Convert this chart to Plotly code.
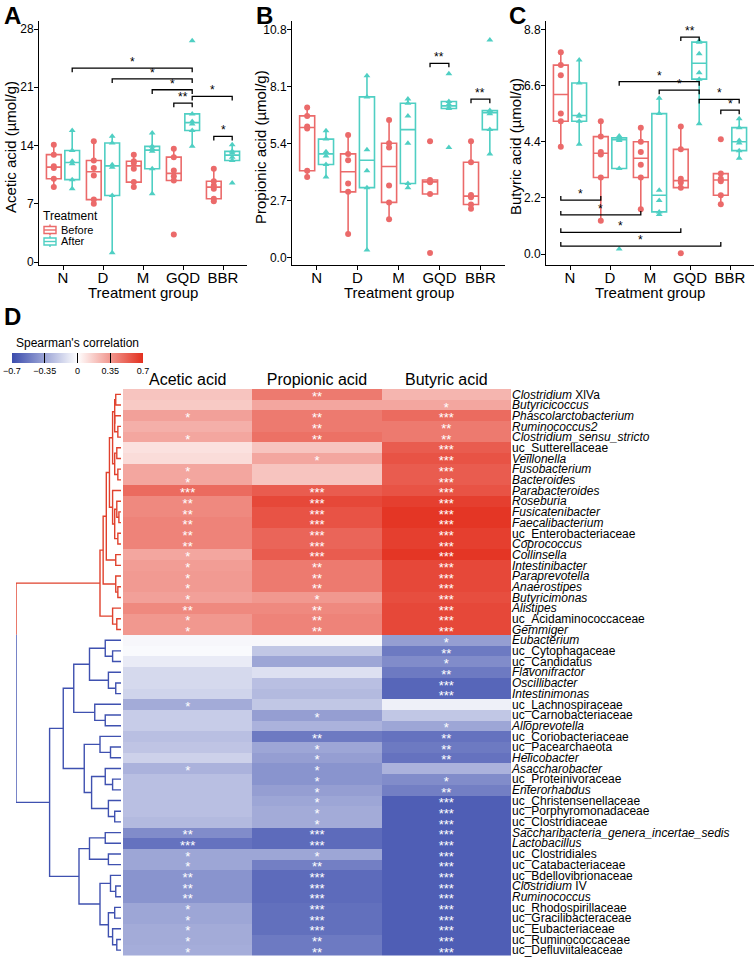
import numpy as np
import plotly.graph_objects as go

FONT = "Arial, Liberation Sans, Helvetica, sans-serif"
W, H = 756, 958

# ---------------- Panels A-C data ----------------
groups = ["N", "D", "M", "GQD", "BBR"]
treat_names = ["Before", "After"]
treat_colors = ["#EB6A6A", "#4FCFC3"]
treat_symbols = ["circle", "triangle-up"]

acetic_before = [[9.0, 10.0, 11.3, 11.5, 12.9, 14.1], [7.0, 7.5, 10.4, 11.3, 12.2, 14.5],
                 [9.0, 9.6, 11.2, 11.9, 12.1, 12.9], [3.3, 9.8, 10.3, 11.0, 12.6, 13.6],
                 [7.3, 7.6, 8.8, 9.2, 9.7, 11.2]]
acetic_after = [[8.8, 9.9, 11.8, 12.1, 13.4, 15.8], [1.1, 8.0, 11.4, 11.7, 14.3, 15.1],
                [8.2, 11.2, 13.3, 13.6, 13.9, 15.5], [13.9, 15.8, 16.6, 16.9, 17.8, 26.6],
                [9.5, 12.2, 12.6, 13.1, 13.3, 14.1]]
propionic_before = [[3.8, 4.1, 6.1, 6.2, 6.7, 7.1], [1.1, 3.1, 3.5, 4.6, 4.9, 5.8],
                    [1.8, 2.6, 3.4, 5.2, 5.4, 6.5], [0.2, 3.0, 3.55, 3.6, 3.66, 5.5],
                    [2.3, 2.5, 2.85, 2.95, 4.5, 5.5]]
propionic_after = [[3.8, 4.4, 4.8, 5.0, 5.6, 6.0], [0.35, 3.3, 4.1, 5.1, 7.6, 8.6],
                   [3.3, 3.5, 5.4, 6.7, 7.3, 7.5], [5.2, 7.05, 7.1, 7.25, 7.38, 8.7],
                   [4.9, 6.05, 6.8, 6.9, 6.95, 10.3]]
butyric_before = [[4.2, 5.2, 5.5, 7.0, 7.4, 7.9], [1.3, 3.0, 3.9, 4.0, 4.6, 5.2],
                  [1.75, 3.0, 3.5, 4.0, 4.4, 4.95], [0.03, 2.6, 2.8, 2.95, 4.1, 5.0],
                  [1.95, 2.3, 2.85, 2.95, 3.15, 4.5]]
butyric_after = [[4.3, 5.2, 5.4, 5.45, 6.7, 7.6], [0.2, 3.35, 4.45, 4.5, 4.55, 4.62],
                 [1.55, 1.65, 2.1, 2.5, 5.5, 6.1], [5.1, 6.85, 7.1, 7.85, 8.3, 8.35],
                 [3.75, 4.05, 4.35, 4.45, 4.95, 5.3]]

acetic_ticks = [0, 7, 14, 21, 28]
propionic_ticks = [0.0, 2.7, 5.4, 8.1, 10.8]
butyric_ticks = [0.0, 2.2, 4.4, 6.6, 8.8]

# significance brackets: (group1, treatment1, group2, treatment2, y, label)
acetic_brackets = [("N", 1, "GQD", 1, 23.3, "*"), ("D", 1, "GQD", 1, 22.0, "*"),
                   ("M", 1, "GQD", 1, 20.7, "*"), ("GQD", 0, "GQD", 1, 19.1, "**"),
                   ("GQD", 1, "BBR", 1, 19.9, "*"), ("BBR", 0, "BBR", 1, 15.1, "*")]
propionic_brackets = [("GQD", 0, "GQD", 1, 9.19, "**"), ("BBR", 0, "BBR", 1, 7.49, "**")]
butyric_brackets = [("GQD", 0, "GQD", 1, 8.5, "**"), ("D", 1, "GQD", 1, 6.75, "*"),
                    ("M", 1, "GQD", 1, 6.42, "*"), ("GQD", 1, "BBR", 1, 6.06, "*"),
                    ("BBR", 0, "BBR", 1, 5.64, "*")]
butyric_brackets_low = [("N", 0, "D", 0, 2.11, "*"), ("N", 0, "M", 0, 1.53, "*"),
                        ("N", 0, "GQD", 0, 0.85, "*"), ("N", 0, "BBR", 0, 0.31, "*")]

# ---------------- Panel D data ----------------
acids = ["Acetic acid", "Propionic acid", "Butyric acid"]
genera = ["<i>Clostridium</i> XlVa", "<i>Butyricicoccus</i>", "<i>Phascolarctobacterium</i>",
          "<i>Ruminococcus2</i>", "<i>Clostridium_sensu_stricto</i>", "uc_Sutterellaceae",
          "<i>Veillonella</i>", "<i>Fusobacterium</i>", "<i>Bacteroides</i>", "<i>Parabacteroides</i>",
          "<i>Roseburia</i>", "<i>Fusicatenibacter</i>", "<i>Faecalibacterium</i>",
          "uc_Enterobacteriaceae", "<i>Coprococcus</i>", "<i>Collinsella</i>", "<i>Intestinibacter</i>",
          "<i>Paraprevotella</i>", "<i>Anaerostipes</i>", "<i>Butyricimonas</i>", "<i>Alistipes</i>",
          "uc_Acidaminococcaceae", "<i>Gemmiger</i>", "<i>Eubacterium</i>", "uc_Cytophagaceae",
          "uc_Candidatus", "<i>Flavonifractor</i>", "<i>Oscillibacter</i>", "<i>Intestinimonas</i>",
          "uc_Lachnospiraceae", "uc_Carnobacteriaceae", "<i>Alloprevotella</i>",
          "uc_Coriobacteriaceae", "uc_Pacearchaeota", "<i>Helicobacter</i>", "<i>Asaccharobacter</i>",
          "uc_Proteinivoraceae", "<i>Enterorhabdus</i>", "uc_Christensenellaceae",
          "uc_Porphyromonadaceae", "uc_Clostridiaceae",
          "<i>Saccharibacteria_genera_incertae_sedis</i>", "<i>Lactobacillus</i>",
          "uc_Clostridiales", "uc_Catabacteriaceae", "uc_Bdellovibrionaceae",
          "<i>Clostridium</i> IV", "<i>Ruminococcus</i>", "uc_Rhodospirillaceae",
          "uc_Gracilibacteraceae", "uc_Eubacteriaceae", "uc_Ruminococcaceae", "uc_Defluviitaleaceae"]

acetic_r = [0.20, 0.18, 0.32, 0.27, 0.30, 0.10, 0.12, 0.30, 0.30, 0.50, 0.40, 0.40, 0.42, 0.42,
            0.42, 0.30, 0.33, 0.34, 0.34, 0.32, 0.40, 0.35, 0.35,
            -0.03, -0.02, -0.08, -0.15, -0.15, -0.17, -0.33, -0.20, -0.20, -0.25, -0.23, -0.18,
            -0.30, -0.25, -0.25, -0.25, -0.25, -0.27, -0.45, -0.55, -0.35, -0.35, -0.42, -0.42,
            -0.42, -0.35, -0.35, -0.33, -0.33, -0.32]
propionic_r = [0.45, 0.30, 0.45, 0.45, 0.48, 0.20, 0.30, 0.20, 0.20, 0.55, 0.62, 0.58, 0.58, 0.52,
               0.52, 0.55, 0.45, 0.45, 0.45, 0.35, 0.40, 0.42, 0.42,
               -0.03, -0.22, -0.35, -0.12, -0.25, -0.27, -0.22, -0.38, -0.30, -0.52, -0.35, -0.38,
               -0.42, -0.42, -0.38, -0.35, -0.33, -0.33, -0.58, -0.58, -0.35, -0.50, -0.58, -0.58,
               -0.58, -0.56, -0.56, -0.56, -0.52, -0.52]
butyric_r = [0.25, 0.30, 0.50, 0.45, 0.45, 0.55, 0.58, 0.55, 0.55, 0.58, 0.65, 0.68, 0.68, 0.65,
             0.65, 0.68, 0.62, 0.62, 0.62, 0.60, 0.62, 0.62, 0.62,
             -0.38, -0.52, -0.45, -0.52, -0.60, -0.60, -0.06, -0.22, -0.35, -0.55, -0.52, -0.55,
             -0.30, -0.45, -0.50, -0.63, -0.63, -0.63, -0.63, -0.63, -0.63, -0.63, -0.63, -0.63,
             -0.63, -0.63, -0.63, -0.63, -0.63, -0.63]

acetic_sig = ["", "", "*", "", "*", "", "", "*", "*", "***", "**", "**", "**", "**", "**", "*", "*",
              "*", "*", "*", "**", "*", "*",
              "", "", "", "", "", "", "*", "", "", "", "", "", "*", "", "", "", "", "", "**", "***",
              "*", "*", "**", "**", "**", "*", "*", "*", "*", "*"]
propionic_sig = ["**", "", "**", "**", "**", "", "*", "", "", "***", "***", "***", "***", "***", "***",
                 "***", "**", "**", "**", "*", "**", "**", "**",
                 "", "", "", "", "", "", "", "*", "", "**", "*", "*", "*", "*", "*", "*", "*", "*",
                 "***", "***", "*", "**", "***", "***", "***", "***", "***", "***", "**", "**"]
butyric_sig = ["", "*", "***", "**", "**", "***", "***", "***", "***", "***", "***", "***", "***",
               "***", "***", "***", "***", "***", "***", "***", "***", "***", "***",
               "*", "**", "*", "**", "***", "***", "", "", "*", "**", "**", "**", "", "*", "**",
               "***", "***", "***", "***", "***", "***", "***", "***", "***", "***", "***", "***",
               "***", "***", "***"]

# dendrogram linkage: (merge height relative to root, left, right); leaves are row indices
red_tree = (0.20,
            (0.17,
             (0.14,
              (0.11,
               (0.08, (0.06, (0.05, 0, 1), (0.06, 2, (0.03, 3, 4))),
                (0.06, (0.04, 5, 6), (0.03, 7, 8))),
               (0.08, 9, (0.06, (0.04, 10, (0.02, 11, 12)), (0.03, 13, 14)))),
              (0.05, 15, 16)),
             (0.05, 17, (0.03, 18, 19))),
            (0.08, 20, (0.04, 21, 22)))
blue_tree = (0.68,
             (0.55,
              (0.45, (0.30, (0.15, 23, (0.08, 24, 25)), (0.12, 26, (0.05, 27, 28))),
               (0.25, 29, (0.15, 30, 31))),
              (0.35, (0.20, 32, (0.10, 33, 34)),
               (0.28, (0.15, 35, (0.08, 36, 37)), (0.12, 38, (0.06, 39, 40))))),
             (0.40,
              (0.30, (0.15, 41, 42), (0.12, 43, 44)),
              (0.20, (0.10, 45, (0.05, 46, 47)),
               (0.12, (0.06, 48, 49), (0.08, 50, (0.04, 51, 52))))))
root_height = 1.0

fig = go.Figure()


def px_x(p):
    return p / W


def px_y(p):
    return 1 - p / H


def label(text, x, y, size, angle=0, xanchor="center", yanchor="middle", color="black"):
    fig.add_annotation(text=text, x=px_x(x), y=px_y(y), xref="paper", yref="paper",
                       xanchor=xanchor, yanchor=yanchor, showarrow=False, textangle=angle,
                       font=dict(size=size, color=color, family=FONT))


# ---------------- Box panels ----------------
panels = [
    ("x", "y", "Acetic acid (µmol/g)", acetic_before, acetic_after, acetic_ticks,
     [-0.36, 29.0], (39, 247), acetic_brackets, [], 0.5, 10),
    ("x2", "y2", "Propionic acid (µmol/g)", propionic_before, propionic_after, propionic_ticks,
     [-0.365, 11.21], (292, 505), propionic_brackets, [], 0.19, 260),
    ("x3", "y3", "Butyric acid (µmol/g)", butyric_before, butyric_after, butyric_ticks,
     [-0.43, 9.14], (546, 754), butyric_brackets, butyric_brackets_low, 0.16, 515),
]
DODGE = 0.23
for pi, (xa, ya, ytitle, before, after, ticks, yr, xdom, brk, brk_low, tl, ytx) in enumerate(panels):
    for ti, data in enumerate([before, after]):
        xs, ys = [], []
        for g, vals in zip(groups, data):
            xs += [g] * len(vals)
            ys += vals
        fig.add_trace(go.Box(
            x=xs, y=ys, name=treat_names[ti], showlegend=False, xaxis=xa, yaxis=ya,
            alignmentgroup=f"panel{pi}", offsetgroup=treat_names[ti],
            boxpoints="all", jitter=0, pointpos=0,
            fillcolor="rgba(0,0,0,0)", line=dict(color=treat_colors[ti], width=1.6),
            marker=dict(color=treat_colors[ti], symbol=treat_symbols[ti], size=6),
            whiskerwidth=0, hoverinfo="y"))
    sfx = "" if pi == 0 else str(pi + 1)
    fig.layout["xaxis" + sfx] = dict(
        domain=[px_x(xdom[0]), px_x(xdom[1])], anchor=ya, type="category",
        categoryorder="array", categoryarray=groups, range=[-0.6, 4.6], automargin=False,
        showline=True, linecolor="black", linewidth=1, ticks="outside", ticklen=4,
        ticklabelstandoff=-5,
        tickcolor="black", tickfont=dict(size=15, color="black", family=FONT),
        showgrid=False, zeroline=False)
    fig.layout["yaxis" + sfx] = dict(
        domain=[px_y(265), px_y(20.7)], anchor=xa, range=yr, tickvals=ticks, automargin=False,
        ticktext=[("%g" % t) if pi == 0 else ("%.1f" % t) for t in ticks],
        showline=True, linecolor="black", linewidth=1, ticks="outside", ticklen=4,
        ticklabelstandoff=-2,
        tickcolor="black", tickfont=dict(size=12, color="black", family=FONT),
        showgrid=False, zeroline=False)
    label("Treatment group", (xdom[0] + xdom[1]) / 2, 292, 15)
    label(ytitle, ytx, 147, 15, angle=-90)
    for (g1, t1, g2, t2, yv, lab), sign in [(b, 1) for b in brk] + [(b, -1) for b in brk_low]:
        x1 = groups.index(g1) + (DODGE if t1 else -DODGE)
        x2 = groups.index(g2) + (DODGE if t2 else -DODGE)
        yt = yv - sign * tl
        fig.add_shape(type="path", xref=xa, yref=ya,
                      path=f"M {x1} {yt} L {x1} {yv} L {x2} {yv} L {x2} {yt}",
                      line=dict(color="black", width=1.3))
        fig.add_annotation(x=(x1 + x2) / 2, y=yv, xref=xa, yref=ya, text=lab,
                           showarrow=False, yanchor="bottom", yshift=-3,
                           font=dict(size=12, color="black", family=FONT))

# manual legend for panel A (ggplot-style keys)
label("Treatment", 41, 216, 12, xanchor="left")
for ti, name in enumerate(treat_names):
    yc = 230 + ti * 11.5
    col = treat_colors[ti]
    fig.add_shape(type="rect", xref="paper", yref="paper", x0=px_x(44), x1=px_x(56),
                  y0=px_y(yc + 3.5), y1=px_y(yc - 3.5), line=dict(color=col, width=1.4),
                  fillcolor="rgba(0,0,0,0)")
    fig.add_shape(type="line", xref="paper", yref="paper", x0=px_x(44), x1=px_x(56),
                  y0=px_y(yc), y1=px_y(yc), line=dict(color=col, width=1.4))
    fig.add_shape(type="line", xref="paper", yref="paper", x0=px_x(50), x1=px_x(50),
                  y0=px_y(yc - 5.5), y1=px_y(yc - 3.5), line=dict(color=col, width=1.4))
    fig.add_shape(type="line", xref="paper", yref="paper", x0=px_x(50), x1=px_x(50),
                  y0=px_y(yc + 3.5), y1=px_y(yc + 5.5), line=dict(color=col, width=1.4))
    label(name, 59, yc, 11, xanchor="left")

# ---------------- Heatmap ----------------
Z = np.array([acetic_r, propionic_r, butyric_r]).T
rows = list(range(len(genera)))
colorscale = [[0, "#3B4CAD"], [0.5, "#FFFFFF"], [1, "#E3301F"]]
fig.add_trace(go.Heatmap(
    z=Z, x=acids, y=rows, xaxis="x4", yaxis="y4", zmin=-0.7, zmax=0.7,
    colorscale=colorscale, showscale=True,
    colorbar=dict(orientation="h", x=px_x(12), xanchor="left", y=px_y(339), yanchor="top",
                  lenmode="pixels", len=131, thickness=10, xpad=0, ypad=0, outlinewidth=0,
                  tickvals=[-0.7, -0.35, 0, 0.35, 0.7],
                  ticktext=["\u22120.7", "\u22120.35", "0", "0.35", "0.7"],
                  ticks="inside", ticklen=10, tickwidth=1, tickcolor="black",
                  tickfont=dict(size=9, color="black", family=FONT),
                  title=dict(text="Spearman's correlation", side="top",
                             font=dict(size=12, color="black", family=FONT))),
    hoverinfo="z"))

sig_cols = [acetic_sig, propionic_sig, butyric_sig]
sx, sy, st = [], [], []
for ci, col in enumerate(sig_cols):
    for ri, s in enumerate(col):
        if s:
            sx.append(acids[ci])
            sy.append(ri + 0.32)
            st.append(s)
fig.add_trace(go.Scatter(x=sx, y=sy, text=st, mode="text", xaxis="x4", yaxis="y4",
                         textfont=dict(size=13, color="white", family=FONT),
                         showlegend=False, hoverinfo="skip", cliponaxis=False))

fig.layout["xaxis4"] = dict(domain=[px_x(123), px_x(511)], anchor="y4", side="top",
                            type="category", categoryorder="array", categoryarray=acids,
                            showline=False, ticks="", showgrid=False, zeroline=False,
                            automargin=False,
                            tickfont=dict(size=16, color="black", family=FONT))
fig.layout["yaxis4"] = dict(domain=[px_y(955.5), px_y(389)], anchor="x4", side="right",
                            range=[len(genera) - 0.5, -0.5], tickvals=rows, ticktext=genera,
                            ticks="", showline=False, showgrid=False, zeroline=False,
                            automargin=False,
                            tickfont=dict(size=12, color="black", family=FONT))

# ---------------- Dendrogram ----------------
def build(node, segs):
    if isinstance(node, int):
        return float(node), 0.0
    h, left, right = node
    y1, h1 = build(left, segs)
    y2, h2 = build(right, segs)
    segs.append(([h1, h, h, h2], [y1, y1, y2, y2]))
    return (y1 + y2) / 2, h


def leaves(node):
    if isinstance(node, int):
        return [node]
    return leaves(node[1]) + leaves(node[2])


red_segs, blue_segs = [], []
yr_, hr_ = build(red_tree, red_segs)
yb_, hb_ = build(blue_tree, blue_segs)
boundary = len(leaves(red_tree)) - 0.5
red_segs.append(([hr_, root_height, root_height], [yr_, yr_, boundary]))
blue_segs.append(([root_height, root_height, hb_], [boundary, yb_, yb_]))

for segs, col in [(red_segs, "#E0412D"), (blue_segs, "#3F51B0")]:
    xs, ys = [], []
    for sxs, sys_ in segs:
        xs += sxs + [None]
        ys += sys_ + [None]
    fig.add_trace(go.Scatter(x=xs, y=ys, mode="lines", xaxis="x5", yaxis="y4",
                             line=dict(color=col, width=1.4), showlegend=False, hoverinfo="skip"))

fig.layout["xaxis5"] = dict(domain=[px_x(16), px_x(121)], anchor="y4",
                            range=[root_height, 0], visible=False)

# ---------------- Letters ----------------
for lab, x, y in [("A", 2, 0), ("B", 254, 0), ("C", 507, 0), ("D", 2, 301)]:
    label(f"<b>{lab}</b>", x, y, 24, xanchor="left", yanchor="top")

fig.update_layout(
    width=W, height=H, margin=dict(l=0, r=0, t=0, b=0, autoexpand=False),
    paper_bgcolor="white", plot_bgcolor="white",
    boxmode="group", boxgap=0.08, boxgroupgap=0.2,
    font=dict(family=FONT, color="black"),
    showlegend=False,
)

fig.write_html("out.html", config={"displayModeBar": False},
               post_script="document.body.style.margin='0px';document.body.style.overflow='hidden';")
